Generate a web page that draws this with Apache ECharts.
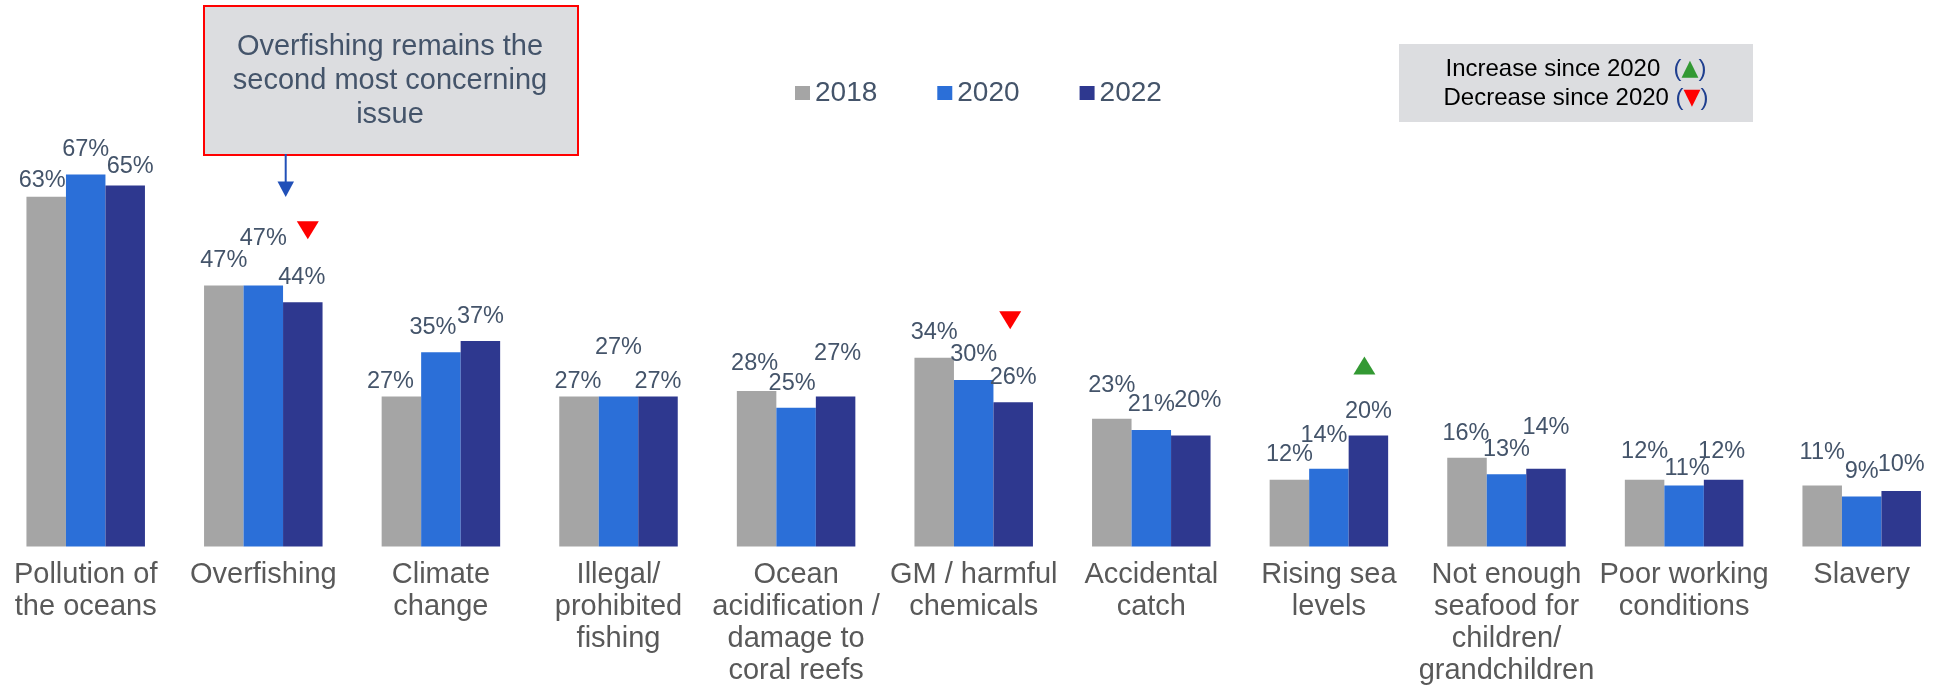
<!DOCTYPE html>
<html>
<head>
<meta charset="utf-8">
<script src="https://cdn.jsdelivr.net/npm/echarts@6/dist/echarts.min.js"></script>
<style>
  html, body { margin: 0; padding: 0; background: #ffffff; overflow: hidden; width: 1934px; height: 691px; }
  #chart { position: absolute; left: -20px; top: 0; width: 1974px; height: 691px; }
</style>
</head>
<body>
<div id="chart"></div>
<script>
// ---------- data ----------
const categories = [
  'Pollution of\nthe oceans',
  'Overfishing',
  'Climate\nchange',
  'Illegal/\nprohibited\nfishing',
  'Ocean\nacidification /\ndamage to\ncoral reefs',
  'GM / harmful\nchemicals',
  'Accidental\ncatch',
  'Rising sea\nlevels',
  'Not enough\nseafood for\nchildren/\ngrandchildren',
  'Poor working\nconditions',
  'Slavery'
];
const years = ['2018', '2020', '2022'];
const values2018 = [63, 47, 27, 27, 28, 34, 23, 12, 16, 12, 11];
const values2020 = [67, 47, 35, 27, 25, 30, 21, 14, 13, 11, 9];
const values2022 = [65, 44, 37, 27, 27, 26, 20, 20, 14, 12, 10];
// change of 2022 versus 2020 flagged in the chart
const changeSince2020 = [null, 'down', null, null, null, 'down', null, 'up', null, null, null];

// ---------- presentation (label nudges in px, kept apart from the data) ----------
const labelNudge2018 = [[-4, 9], [0, 0], [-11, 10], [-1, 10], [-2, -3], [0, 0], [0, -8], [0, 0], [-1, 1], [0, -3], [0, -8]];
const labelNudge2020 = [[0, 0], [0, -22], [-8, 0], [0, -24], [-4, 1], [0, 0], [0, 0], [-5, -8], [0, 0], [3, 8], [0, 0]];
const labelNudge2022 = [[5, 6], [-1, 0], [0, 0], [0, 10], [2, -18], [0, 0], [7, -10], [0, 1], [0, -16], [-2, -3], [0, -1]];
const markerNudge = { 1: [5, -72], 5: [-3, -82], 7: [-4, -70] };

const colors = ['#A5A5A5', '#2B6FD8', '#2E388F'];
const FONT = "'Liberation Sans', Arial, sans-serif";
const OX = 20; // the canvas starts 20px left of the page

function buildData(vals, nudges) {
  return vals.map((v, i) => ({ value: v, label: { offset: nudges[i] } }));
}

const markerData = [];
changeSince2020.forEach((c, i) => {
  if (!c) return;
  markerData.push({
    coord: [i, values2022[i]],
    symbol: 'triangle',
    symbolSize: [22, 18],
    symbolRotate: c === 'down' ? 180 : 0,
    symbolOffset: markerNudge[i] || [0, -70],
    itemStyle: { color: c === 'down' ? '#FF0000' : '#339933' }
  });
});

const chart = echarts.init(document.getElementById('chart'), null, { renderer: 'canvas' });

const seriesBase = {
  type: 'bar',
  barWidth: 39.5,
  barGap: '0%',
  label: {
    show: true,
    position: 'top',
    distance: 13,
    formatter: '{c}%',
    fontSize: 23.5,
    color: '#44546A',
    fontFamily: FONT
  }
};

const option = {
  animation: false,
  textStyle: { fontFamily: FONT },
  legend: {
    data: years,
    left: 795 + OX,
    top: 79,
    padding: 0,
    icon: 'rect',
    itemWidth: 15,
    itemHeight: 14,
    itemGap: 60,
    textStyle: { fontSize: 28, color: '#44546A', fontFamily: FONT }
  },
  grid: { left: -3.1 + OX, width: 1953.6, top: 157.8, bottom: 144.5, containLabel: false },
  xAxis: {
    type: 'category',
    data: categories,
    axisLine: { show: false },
    axisTick: { show: false },
    axisLabel: {
      interval: 0,
      margin: 12,
      fontSize: 29,
      lineHeight: 32,
      color: '#595959',
      fontFamily: FONT,
      align: 'center'
    }
  },
  yAxis: { type: 'value', min: 0, max: 70, show: false, splitLine: { show: false } },
  series: [
    Object.assign({}, seriesBase, { name: years[0], itemStyle: { color: colors[0] }, data: buildData(values2018, labelNudge2018) }),
    Object.assign({}, seriesBase, { name: years[1], itemStyle: { color: colors[1] }, data: buildData(values2020, labelNudge2020) }),
    Object.assign({}, seriesBase, {
      name: years[2], itemStyle: { color: colors[2] }, data: buildData(values2022, labelNudge2022),
      markPoint: { silent: true, label: { show: false }, data: markerData }
    })
  ],
  graphic: [
    // callout box
    {
      type: 'rect', left: 203 + OX, top: 5,
      shape: { width: 374, height: 149 },
      style: { fill: '#DCDDE0', stroke: '#FF0000', lineWidth: 2 }
    },
    {
      type: 'text', x: 390 + OX, y: 81,
      style: {
        text: 'Overfishing remains the\nsecond most concerning\nissue',
        fontSize: 29, lineHeight: 34, fill: '#44546A', fontFamily: FONT,
        align: 'center', verticalAlign: 'middle'
      }
    },
    {
      type: 'line', shape: { x1: 285.7 + OX, y1: 154, x2: 285.7 + OX, y2: 183 },
      style: { stroke: '#2150B8', lineWidth: 2 }
    },
    {
      type: 'polygon', shape: { points: [[277.5 + OX, 181.5], [294 + OX, 181.5], [285.7 + OX, 197]] },
      style: { fill: '#2150B8' }
    },
    // key box
    {
      type: 'rect', left: 1399 + OX, top: 44,
      shape: { width: 354, height: 78 },
      style: { fill: '#DCDDE0' }
    },
    {
      type: 'text', x: 1576 + OX, y: 69,
      style: {
        text: '{t|Increase since 2020  }{p|(}{up|▲}{p|)}',
        align: 'center', verticalAlign: 'middle',
        rich: {
          t: { fontSize: 24, fill: '#000000', fontFamily: FONT },
          p: { fontSize: 24, fill: '#1F3F8F', fontFamily: FONT },
          up: { fontSize: 22, fill: '#339933', fontFamily: "'DejaVu Sans', sans-serif" }
        }
      }
    },
    {
      type: 'text', x: 1576 + OX, y: 98,
      style: {
        text: '{t|Decrease since 2020 }{p|(}{dn|▼}{p|)}',
        align: 'center', verticalAlign: 'middle',
        rich: {
          t: { fontSize: 24, fill: '#000000', fontFamily: FONT },
          p: { fontSize: 24, fill: '#1F3F8F', fontFamily: FONT },
          dn: { fontSize: 22, fill: '#FF0000', fontFamily: "'DejaVu Sans', sans-serif" }
        }
      }
    }
  ]
};

chart.setOption(option);
</script>
</body>
</html>
